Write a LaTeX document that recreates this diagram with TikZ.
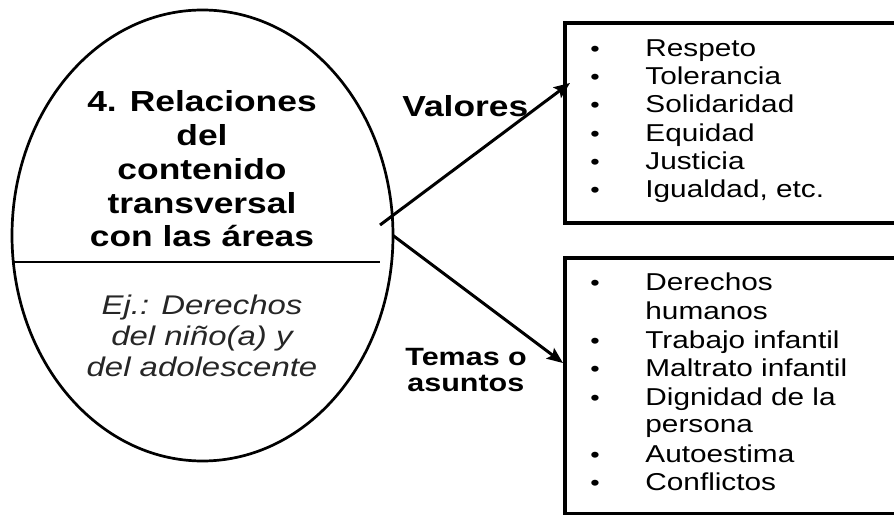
\documentclass[tikz,border=0pt]{standalone}
\usepackage{fontspec}
\setmainfont{Liberation Sans}[FakeStretch=1.22]
\usetikzlibrary{shapes.geometric,arrows.meta}

\begin{document}
\begin{tikzpicture}[x=0.5pt,y=0.5pt,
  titletxt/.style={font=\fontsize{14.5}{17}\selectfont\bfseries,anchor=base,inner sep=0pt},
  exampletxt/.style={font=\fontsize{13.5}{16}\selectfont\itshape,text=black!85,anchor=base,inner sep=0pt},
  labeltxt/.style={font=\fontsize{12.5}{14}\selectfont\bfseries,anchor=base west,inner sep=0pt},
  itemtxt/.style={font=\fontsize{12.2}{14}\selectfont,anchor=base west,inner sep=0pt},
  dot/.style={font=\fontsize{11}{14}\selectfont,anchor=base,inner sep=0pt},
  listbox/.style={anchor=north west,minimum width=200pt,inner sep=0pt,outer sep=0pt},
  boxline/.style={line width=2.2pt},
  arr/.style={line width=1.5pt,-{Stealth[length=8pt,width=6.5pt,inset=1.5pt]}}]
\useasboundingbox (0,0) rectangle (894,514);
\node[ellipse,draw,line width=1.35pt,minimum width=190.5pt,minimum height=225.5pt,inner sep=0pt,outer sep=0pt] (area) at (202.5,278.5) {};
\draw[line width=0.8pt] (13,252) -- (380,252);
\foreach \t [count=\i] in {4. Relaciones,del,contenido,transversal,con las áreas}
  \node[titletxt] (title\i) at (202,{514-112-33.75*(\i-1)}) {\t};
\foreach \t [count=\i] in {Ej.: Derechos,del niño(a) y,del adolescente}
  \node[exampletxt] (ej\i) at (202,{514-315-31*(\i-1)}) {\t};
\node[listbox,minimum height=100pt] (valbox) at (565,491) {};
\node[listbox,minimum height=128pt] (temabox) at (565,256) {};
\draw[boxline] (valbox.north east) -- (valbox.north west) -- (valbox.south west) -- (valbox.south east);
\draw[boxline] (temabox.north east) -- (temabox.north west) -- (temabox.south west) -- (temabox.south east);
\node[labeltxt,font=\fontsize{14.5}{17}\selectfont\bfseries] (valores) at (402,397) {Valores};
\node[labeltxt] (temas1) at (405,148) {Temas o};
\node[labeltxt] (temas2) at (407,122) {asuntos};
\def\valitems{57/Respeto,85/Tolerancia,113/Solidaridad,142/Equidad,170/Justicia,198/{Igualdad, etc.}}
\foreach \y/\t [count=\i] in \valitems {
  \node[dot] (vb\i) at (595,514-\y) {•};
  \node[itemtxt] (v\i) at (645,514-\y) {\t};
}
\def\temaitems{291/Derechos,320/humanos,349/Trabajo infantil,377/Maltrato infantil,406/Dignidad de la,433/persona,463/Autoestima,490/Conflictos}
\foreach \y/\t [count=\i] in \temaitems
  \node[itemtxt] (t\i) at (645,514-\y) {\t};
\foreach \y [count=\i] in {291,349,377,406,463,490}
  \node[dot] (tb\i) at (595,514-\y) {•};
\draw[arr] ([shift={(-13,10.5)}]area.east) -- ([shift={(5,40)}]valbox.west);
\draw[arr] (area.east) -- ([shift={(-2,23)}]temabox.west);
\end{tikzpicture}
\end{document}
